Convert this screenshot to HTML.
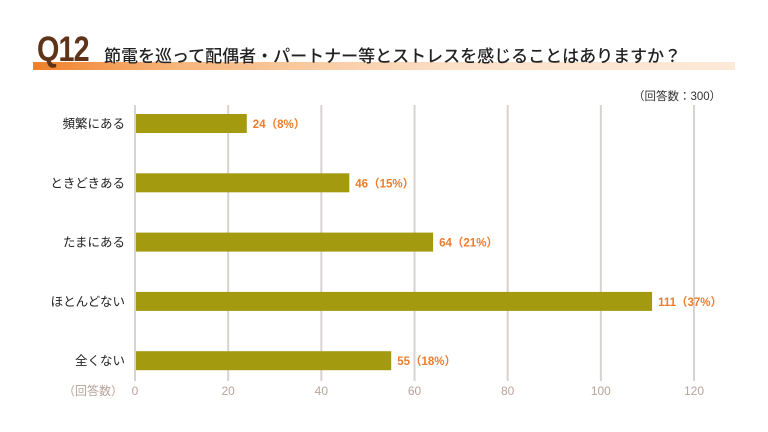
<!DOCTYPE html>
<html><head><meta charset="utf-8"><style>
body{margin:0;width:768px;height:432px;background:#fff;overflow:hidden;font-family:"Liberation Sans","Noto Sans CJK JP",sans-serif;position:relative}
</style></head><body>
<div style="position:absolute;left:33px;top:62px;width:702px;height:8px;background:linear-gradient(90deg,#f0802a 0%,#f7b57a 20%,#fbe0c8 60%,#fde9d8 100%)"></div>
<div style="position:absolute;left:37px;top:30px;font-size:35px;font-weight:bold;color:#5e3318;letter-spacing:-1px;transform:scaleX(0.82);transform-origin:left top">Q12</div>
<div style="position:absolute;left:104px;top:42px;font-size:17px;color:#222;font-weight:500;white-space:nowrap">節電を巡って配偶者・パートナー等とストレスを感じることはありますか？</div>
<div style="position:absolute;left:633px;top:88px;font-size:11.5px;color:#333">（回答数：300）</div>
<svg id="c" width="768" height="432" style="position:absolute;left:0;top:0"></svg>
<script>
const categories=["頻繁にある","ときどきある","たまにある","ほとんどない","全くない"];
const values=[24,46,64,111,55];
const percents=["8%","15%","21%","37%","18%"];
const ticks=[0,20,40,60,80,100,120];
const svg=document.getElementById('c');const NS="http://www.w3.org/2000/svg";
const x=v=>135+v*(694-135)/120;
const y=i=>123+i*59.3;
function mk(t,a,txt){const e=document.createElementNS(NS,t);for(const k in a)e.setAttribute(k,a[k]);if(txt!==undefined)e.textContent=txt;svg.appendChild(e);return e;}
ticks.forEach(t=>{
const g=mk('line',{x1:x(t),x2:x(t),y1:105,y2:381,stroke:'#d8d2d0','stroke-width':2});


const l=mk('text',{x:x(t),y:395,'text-anchor':'middle','font-size':12,fill:'#b8a49a'},t);


});
const al=mk('text',{x:123,y:395,'text-anchor':'end','font-size':12,fill:'#b8a49a'},'（回答数）');


categories.forEach((c,i)=>{
const b=mk('rect',{x:x(0)+1,y:y(i)-9,width:x(values[i])-x(0)-1,height:19,fill:'#a39a10'});


const cl=mk('text',{x:125,y:y(i)+5,'text-anchor':'end','font-size':12.5,fill:'#222'},c);


const vl=mk('text',{x:x(values[i])+6,y:y(i)+5,'font-size':11.5,'font-weight':'bold',fill:'#ee7d2b'},values[i]+'（'+percents[i]+'）');


});
</script>
</body></html>
